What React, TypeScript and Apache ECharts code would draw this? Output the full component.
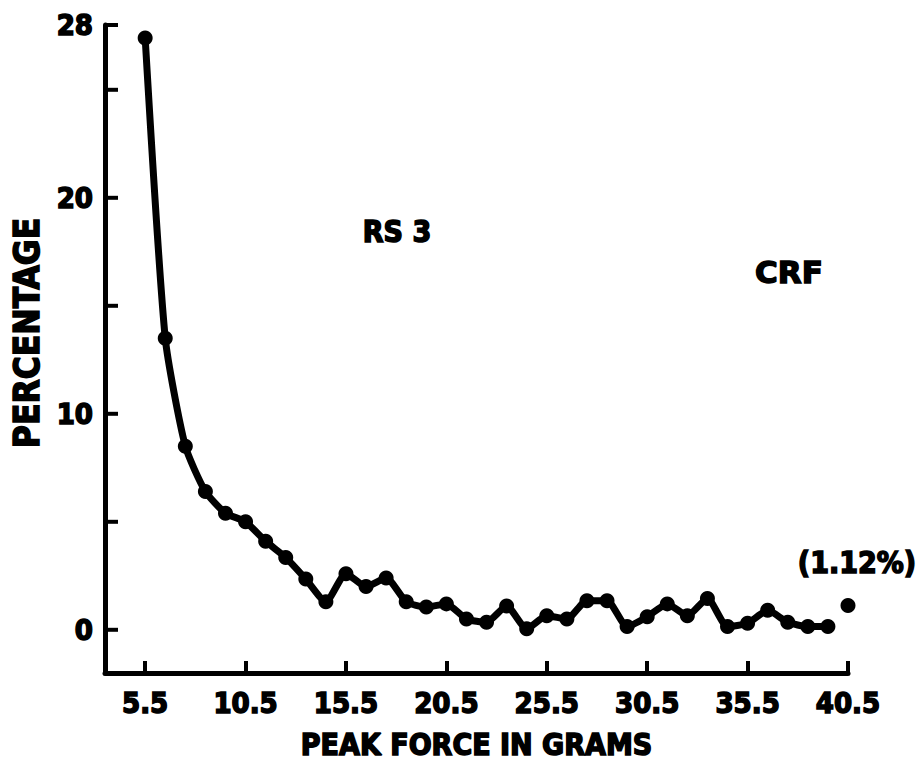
import React, { useEffect, useRef } from "react";
import * as echarts from "echarts";

// Peak force categories (grams), one point per gram
const CATEGORIES = [
  "3.5", "4.5", "5.5", "6.5", "7.5", "8.5", "9.5", "10.5", "11.5", "12.5",
  "13.5", "14.5", "15.5", "16.5", "17.5", "18.5", "19.5", "20.5", "21.5", "22.5",
  "23.5", "24.5", "25.5", "26.5", "27.5", "28.5", "29.5", "30.5", "31.5", "32.5",
  "33.5", "34.5", "35.5", "36.5", "37.5", "38.5", "39.5", "40.5",
];

// Connected curve: 5.5 .. 39.5 grams
const CURVE_FORCE = [
  "5.5", "6.5", "7.5", "8.5", "9.5", "10.5", "11.5", "12.5", "13.5", "14.5",
  "15.5", "16.5", "17.5", "18.5", "19.5", "20.5", "21.5", "22.5", "23.5", "24.5",
  "25.5", "26.5", "27.5", "28.5", "29.5", "30.5", "31.5", "32.5", "33.5", "34.5",
  "35.5", "36.5", "37.5", "38.5", "39.5",
];
const CURVE_PERCENT = [
  27.4, 13.5, 8.5, 6.4, 5.4, 5.0, 4.1, 3.35, 2.35, 1.3,
  2.6, 2.0, 2.4, 1.3, 1.05, 1.2, 0.5, 0.35, 1.1, 0.05,
  0.65, 0.5, 1.35, 1.35, 0.15, 0.6, 1.2, 0.65, 1.45, 0.15,
  0.3, 0.9, 0.35, 0.15, 0.15,
];

// Isolated point (>= 40.5 g)
const TAIL_FORCE = "40.5";
const TAIL_PERCENT = 1.12;

const X_TICK_LABELS = ["5.5", "10.5", "15.5", "20.5", "25.5", "30.5", "35.5", "40.5"];
const Y_TICKS = [0, 5, 10, 15, 20, 25, 28];
const Y_LABELS = [0, 10, 20, 28];

const FONT = '"DejaVu Sans Condensed", "DejaVu Sans", sans-serif';

export default function App() {
  const ref = useRef<HTMLDivElement>(null);

  useEffect(() => {
    if (!ref.current) return;
    const chart = echarts.init(ref.current, null, { renderer: "svg" });

    const lineData = CATEGORIES.map((c) => {
      const i = CURVE_FORCE.indexOf(c);
      return i >= 0 ? CURVE_PERCENT[i] : null;
    });

    const showTick = (_i: number, v: string) => X_TICK_LABELS.includes(v);

    const heavy = { textBorderColor: "#000", textBorderWidth: 1.5 };

    const textStyle = (text: string, size: number, family = FONT) => ({
      text,
      fontSize: size,
      fontWeight: "bold",
      fontFamily: family,
      fill: "#000",
      stroke: "#000",
      lineWidth: 1.5,
      align: "center",
      verticalAlign: "middle",
      textAlign: "center",
      textVerticalAlign: "middle",
    });

    chart.setOption({
      animation: false,
      backgroundColor: "#fff",
      grid: { left: 105, right: 72, top: 25, bottom: 95, containLabel: false },
      xAxis: {
        type: "category",
        data: CATEGORIES,
        boundaryGap: false,
        name: "PEAK FORCE IN GRAMS",
        nameLocation: "middle",
        nameGap: 56,
        nameTextStyle: { fontFamily: FONT, fontWeight: "bold", fontSize: 30, color: "#000", ...heavy },
        axisLine: { onZero: false, lineStyle: { color: "#000", width: 5 } },
        axisTick: { inside: true, length: 12, interval: showTick, lineStyle: { color: "#000", width: 4 } },
        axisLabel: {
          interval: showTick,
          margin: 15,
          color: "#000",
          fontFamily: FONT,
          fontWeight: "bold",
          fontSize: 29,
          ...heavy,
        },
        splitLine: { show: false },
      },
      yAxis: {
        type: "value",
        min: -2,
        max: 28,
        interval: 2,
        name: "PERCENTAGE",
        nameLocation: "middle",
        nameGap: 55,
        nameTextStyle: {
          fontFamily: FONT,
          fontWeight: "bold",
          fontSize: 35,
          color: "#000",
          padding: [0, 0, 0, 32],
          ...heavy,
        },
        axisLine: { show: true, lineStyle: { color: "#000", width: 5 } },
        axisTick: { show: false },
        axisLabel: {
          margin: 12,
          color: "#000",
          fontFamily: FONT,
          fontWeight: "bold",
          fontSize: 29,
          ...heavy,
          formatter: (v: number) => (Y_LABELS.includes(v) ? String(v) : ""),
        },
        splitLine: { show: false },
      },
      series: [
        {
          type: "custom",
          silent: true,
          clip: false,
          data: Y_TICKS.map((v) => [0, v]),
          renderItem: (_p: any, api: any) => {
            const pt = api.coord([api.value(0), api.value(1)]);
            return {
              type: "line",
              shape: { x1: pt[0], y1: pt[1], x2: pt[0] + 13, y2: pt[1] },
              style: { stroke: "#000", lineWidth: 4 },
            };
          },
          z: 3,
        },
        {
          type: "line",
          data: lineData,
          smooth: 0.2,
          symbol: "circle",
          symbolSize: 15,
          showSymbol: true,
          showAllSymbol: true,
          lineStyle: { color: "#000", width: 7 },
          itemStyle: { color: "#000", opacity: 1 },
          z: 4,
        },
        {
          type: "scatter",
          data: [[TAIL_FORCE, TAIL_PERCENT]],
          symbol: "circle",
          symbolSize: 15,
          itemStyle: { color: "#000", opacity: 1 },
          z: 4,
        },
      ],
      graphic: [
        { type: "text", x: 397, y: 231, style: textStyle("RS 3", 30) },
        { type: "text", x: 789, y: 272, style: textStyle("CRF", 31, '"DejaVu Sans", sans-serif') },
        { type: "text", x: 857, y: 562, style: textStyle("(1.12%)", 30) },
      ],
    });

    return () => chart.dispose();
  }, []);

  return (
    <div
      ref={ref}
      style={{ position: "absolute", left: 0, top: 0, width: 920, height: 768, background: "#fff" }}
    />
  );
}
